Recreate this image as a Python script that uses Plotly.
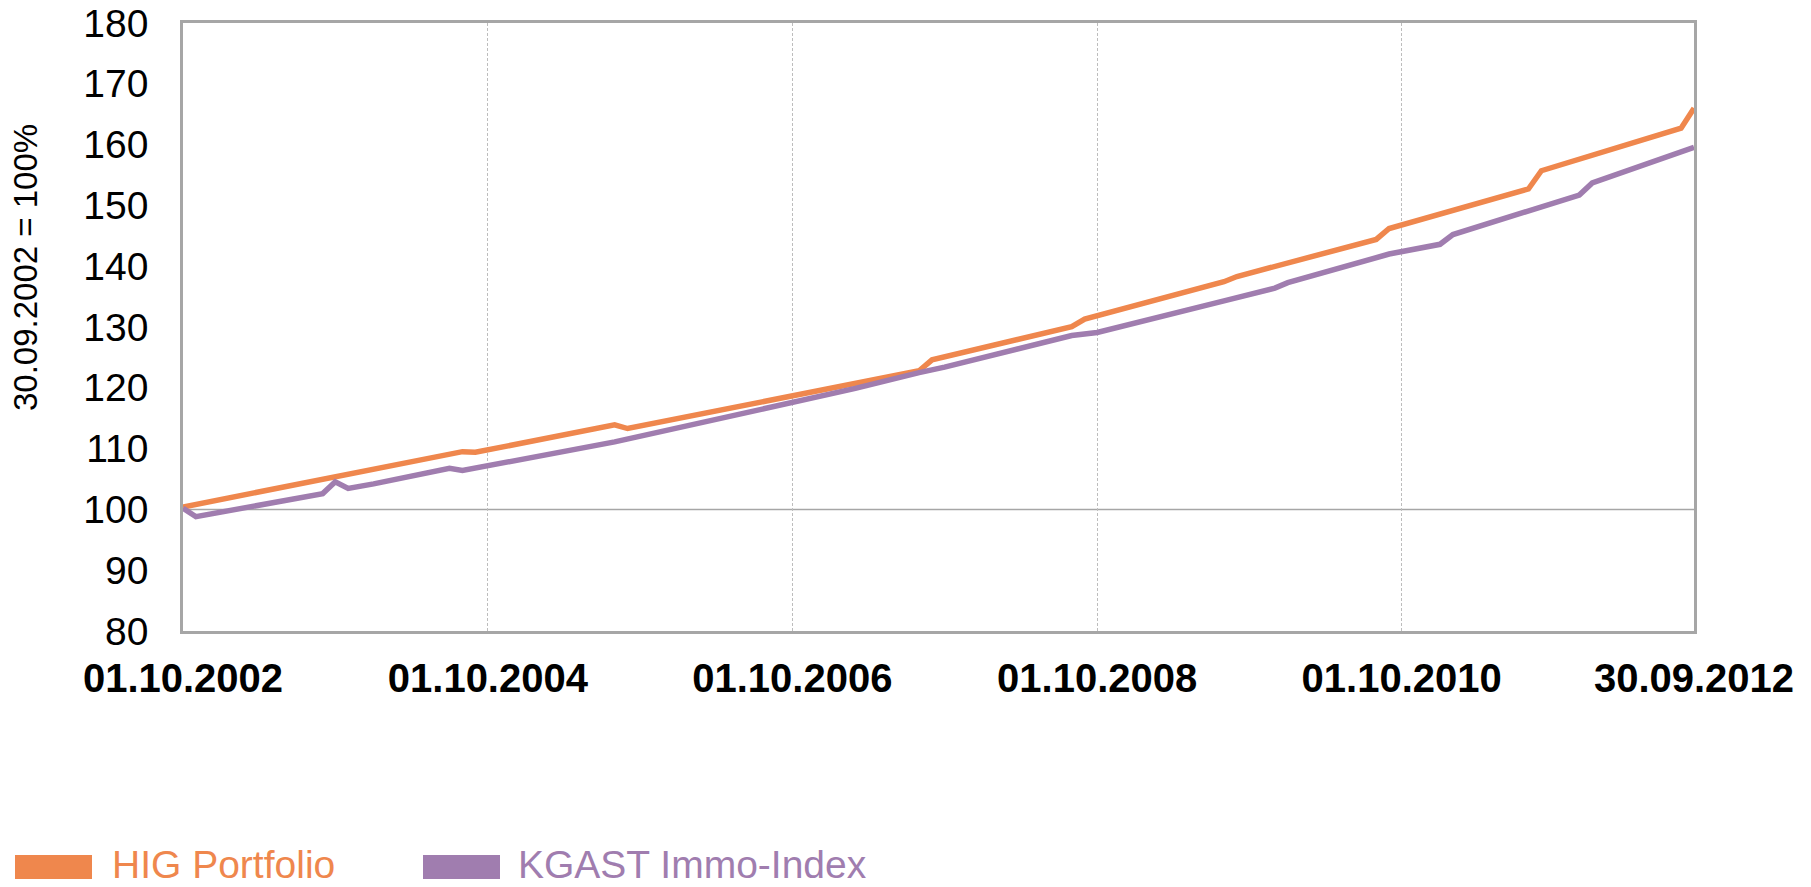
import plotly.graph_objects as go

# ---- data (monthly series, points at visible kinks) ----
hig_dates = ["2002-10-01", "2004-08-01", "2004-09-01", "2005-08-01", "2005-09-01",
             "2006-10-01", "2007-08-01", "2007-09-01", "2008-08-01",
             "2008-09-01", "2009-08-01", "2009-09-01", "2010-02-01", "2010-08-01",
             "2010-09-01", "2011-08-01", "2011-09-01", "2012-08-01", "2012-09-01"]
hig_values = [100.4, 109.5, 109.4, 113.9, 113.3,
              118.7, 122.8, 124.6, 130.05,
              131.3, 137.45, 138.3, 141.2, 144.4,
              146.2, 152.7, 155.7, 162.7, 166.0]

kgast_dates = ["2002-10-01", "2002-11-01", "2003-09-01", "2003-10-01", "2003-11-01",
               "2004-01-01", "2004-07-01", "2004-08-01", "2005-08-01", "2006-10-01",
               "2007-03-01", "2007-08-01", "2007-10-01", "2008-08-01", "2008-10-01",
               "2009-08-01", "2009-12-01", "2010-01-01", "2010-09-01", "2011-01-01",
               "2011-02-01", "2011-12-01", "2012-01-01", "2012-09-01"]
kgast_values = [100.2, 98.8, 102.6, 104.55, 103.45,
                104.2, 106.75, 106.4, 111.1, 117.45,
                119.9, 122.5, 123.4, 128.6, 129.1,
                134.3, 136.4, 137.3, 142.0, 143.6,
                145.2, 151.7, 153.7, 159.55]

series_names = ["HIG Portfolio", "KGAST Immo-Index"]
x_tick_dates = ["2002-10-01", "2004-10-01", "2006-10-01", "2008-10-01", "2010-10-01", "2012-09-01"]
x_tick_labels = ["01.10.2002", "01.10.2004", "01.10.2006", "01.10.2008", "01.10.2010", "30.09.2012"]
y_title = "30.09.2002 = 100%"

# ---- styling ----
ORANGE = "#EF874D"
PURPLE = "#A07DAF"
FONT = "Liberation Sans, Arial, sans-serif"
OFF = 8                     # page body margin of the browser
W, H = 1811 - OFF, 887 - OFF
PL, PT, PR, PB = 183, 23, 1694, 631   # plot area in window pixels
ML, MT = PL - OFF, PT - OFF
MR = W - (PR - OFF)
MB = H - (PB - OFF)
PW, PH = PR - PL, PB - PT


def px_x(px):
    return (px - PL) / PW


def px_y(py):
    return (PB - py) / PH


fig = go.Figure()
fig.add_trace(go.Scatter(x=hig_dates, y=hig_values, mode="lines", name=series_names[0],
                         line=dict(color=ORANGE, width=5.5), showlegend=False))
fig.add_trace(go.Scatter(x=kgast_dates, y=kgast_values, mode="lines", name=series_names[1],
                         line=dict(color=PURPLE, width=5.5), showlegend=False))

# horizontal axis line at 100
fig.add_shape(type="line", xref="paper", yref="y", x0=0, x1=1, y0=100, y1=100,
              line=dict(color="#A6A6A6", width=1.5), layer="below")

# manual legend
legend_items = [(15, 92, 110, ORANGE, series_names[0]), (423, 500, 516, PURPLE, series_names[1])]
for sx0, sx1, tx, col, name in legend_items:
    fig.add_shape(type="rect", xref="paper", yref="paper",
                  x0=px_x(sx0), x1=px_x(sx1), y0=px_y(879), y1=px_y(855),
                  fillcolor=col, line=dict(width=0))
    fig.add_annotation(xref="paper", yref="paper", x=px_x(tx), y=px_y(864),
                       xanchor="left", yanchor="middle", showarrow=False,
                       text=name, font=dict(family=FONT, size=39, color=col))

# y axis title
fig.add_annotation(xref="paper", yref="paper", x=px_x(25), y=px_y(268),
                   xanchor="center", yanchor="middle", showarrow=False, textangle=-90,
                   text=y_title, font=dict(family=FONT, size=33, color="black"))

fig.update_layout(
    width=W, height=H,
    margin=dict(l=ML, r=MR, t=MT, b=MB, autoexpand=False),
    paper_bgcolor="white", plot_bgcolor="white",
    font=dict(family=FONT, color="black"),
    showlegend=False,
    xaxis=dict(type="date", range=["2002-10-01", "2012-09-01"],
               tickmode="array", tickvals=x_tick_dates,
               ticktext=["<b>%s</b>" % t for t in x_tick_labels],
               tickfont=dict(family=FONT, size=40, color="black"),
               ticks="outside", ticklen=10, tickcolor="rgba(0,0,0,0)",
               ticklabeloverflow="allow",
               showgrid=True, gridcolor="#BDBDBD", gridwidth=1, griddash="3px,2px",
               showline=True, linecolor="#A6A6A6", linewidth=2.5, mirror=True,
               zeroline=False, fixedrange=True, automargin=False),
    yaxis=dict(range=[80, 180], tickmode="linear", tick0=80, dtick=10,
               tickfont=dict(family=FONT, size=39, color="black"),
               ticks="outside", ticklen=24, tickcolor="rgba(0,0,0,0)",
               ticklabeloverflow="allow",
               showgrid=False, zeroline=False,
               showline=True, linecolor="#A6A6A6", linewidth=2.5, mirror=True,
               fixedrange=True, automargin=False),
)

fig.write_html("out.html")
